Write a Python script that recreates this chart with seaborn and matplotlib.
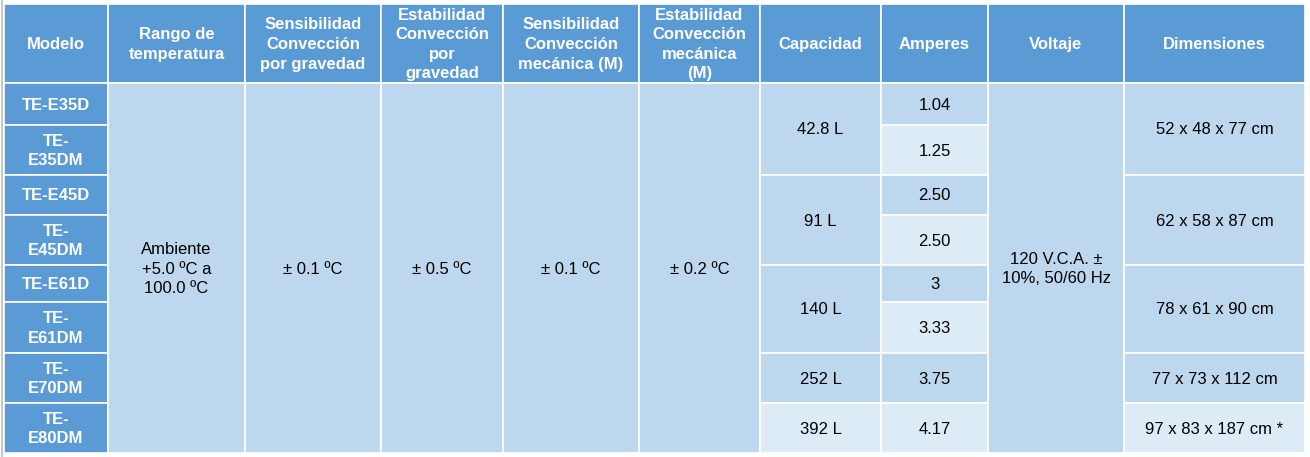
import numpy as np
import matplotlib
matplotlib.use('Agg')
import matplotlib.pyplot as plt
import seaborn as sns
from matplotlib.patches import Rectangle

### table content
headers = ['Modelo', 'Rango de\ntemperatura', 'Sensibilidad\nConvección\npor gravedad',
           'Estabilidad\nConvección\npor\ngravedad', 'Sensibilidad\nConvección\nmecánica (M)',
           'Estabilidad\nConvección\nmecánica\n(M)', 'Capacidad', 'Amperes', 'Voltaje', 'Dimensiones']
modelos = ['TE-E35D', 'TE-\nE35DM', 'TE-E45D', 'TE-\nE45DM', 'TE-E61D', 'TE-\nE61DM',
           'TE-\nE70DM', 'TE-\nE80DM']
rango = ['Ambiente\n+5.0 ºC a\n100.0 ºC']
sens_grav = ['± 0.1 ºC']
estab_grav = ['± 0.5 ºC']
sens_mec = ['± 0.1 ºC']
estab_mec = ['± 0.2 ºC']
capacidad = ['42.8 L', '91 L', '140 L', '252 L', '392 L']
capacidad_span = [2, 2, 2, 1, 1]
amperes = ['1.04', '1.25', '2.50', '2.50', '3', '3.33', '3.75', '4.17']
voltaje = ['120 V.C.A. ±\n10%, 50/60 Hz']
dimensiones = ['52 x 48 x 77 cm', '62 x 58 x 87 cm', '78 x 61 x 90 cm',
               '77 x 73 x 112 cm', '97 x 83 x 187 cm *']
dimensiones_span = [2, 2, 2, 1, 1]

### layout (pixels)
col_edges = [4, 108, 245, 381, 503, 639, 760, 881, 988, 1124, 1305]
row_edges = [4, 83, 125, 175, 215, 265, 302, 353, 403, 453]

cols = {'head': '#5B9BD5', 'mid': '#BDD7EE', 'light': '#DDEBF7'}

sns.set_style('white')
plt.rcParams['font.family'] = ['Liberation Sans', 'DejaVu Sans']

fig = plt.figure(figsize=(13.1, 4.57), dpi=100)
ax = fig.add_axes([0, 0, 1, 1])
ax.set_xlim(0, 1310)
ax.set_ylim(457, 0)
ax.axis('off')


def cell(c, r0, span, text, face, bold=False, color='black'):
    x0, x1 = col_edges[c], col_edges[c + 1]
    y0, y1 = row_edges[r0], row_edges[r0 + span]
    ax.add_patch(Rectangle((x0, y0), x1 - x0, y1 - y0, facecolor=face,
                           edgecolor='white', lw=1.2))
    ax.text((x0 + x1) / 2, (y0 + y1) / 2 + 1, text, ha='center', va='center',
            fontsize=12, color=color, fontweight='bold' if bold else 'normal',
            linespacing=1.38, multialignment='center')


# header row
for c, h in enumerate(headers):
    cell(c, 0, 1, h, cols['head'], bold=True, color='white')

# model column
for r, m in enumerate(modelos):
    cell(0, r + 1, 1, m, cols['head'], bold=True, color='white')

# columns shared by all models
for c, vals in zip([1, 2, 3, 4, 5, 8], [rango, sens_grav, estab_grav, sens_mec, estab_mec, voltaje]):
    cell(c, 1, 8, vals[0], cols['mid'])

# merged capacity / dimensions
r = 1
for i, (cap, dim, s) in enumerate(zip(capacidad, dimensiones, capacidad_span)):
    face = cols['light'] if i == len(capacidad) - 1 else cols['mid']
    cell(6, r, s, cap, face)
    cell(9, r, dimensiones_span[i], dim, face)
    r += s

# amperes, alternating shade
for i, a in enumerate(amperes):
    face = cols['light'] if i % 2 == 1 else cols['mid']
    cell(7, i + 1, 1, a, face)

# thin grey border on the left
ax.plot([1.5, 1.5], [0, 457], color='#C8C8C8', lw=1.5)

plt.savefig('out.png', dpi=100)
